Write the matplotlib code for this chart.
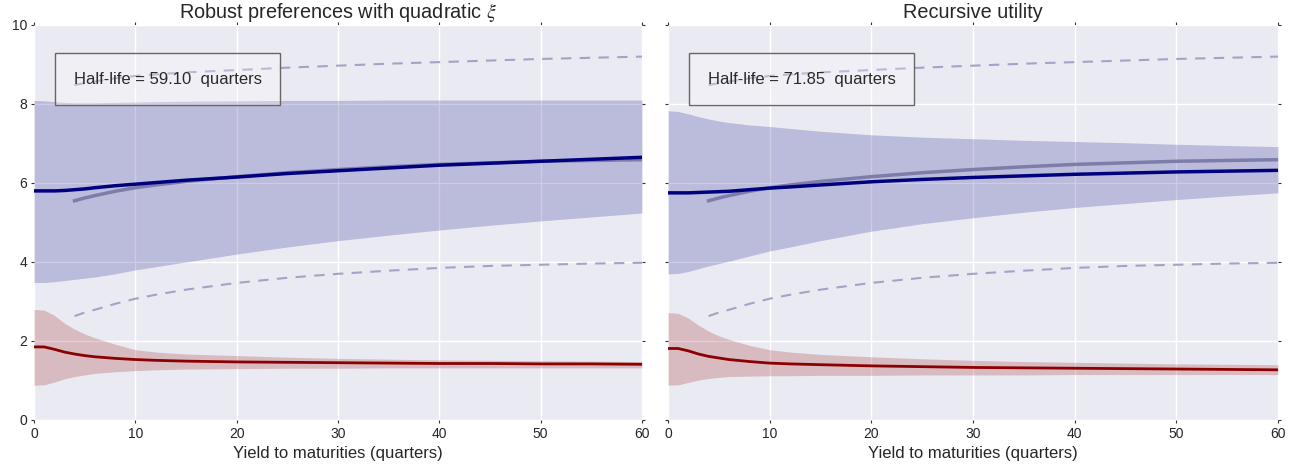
import matplotlib
matplotlib.use("Agg")
from matplotlib import pyplot as plt

plt.rcParams['font.family'] = ['Liberation Sans', 'DejaVu Sans']
plt.rcParams['mathtext.fontset'] = 'stix'

# maturities (quarters)
maturities = [0, 1, 2, 3, 4, 5, 6, 8, 10, 12, 15, 20, 25, 30, 35, 40, 45, 50, 55, 60]
data_maturities = [4, 5, 6, 8, 10, 12, 15, 20, 25, 30, 35, 40, 45, 50, 55, 60]

# observed yields, same in both panels
data_mean = [5.55, 5.62, 5.68, 5.79, 5.88, 5.95, 6.04, 6.16, 6.26, 6.34, 6.41, 6.47, 6.51, 6.55, 6.57, 6.59]
data_upper = [8.48, 8.53, 8.57, 8.65, 8.71, 8.75, 8.80, 8.86, 8.92, 8.97, 9.02, 9.06, 9.10, 9.14, 9.17, 9.20]
data_lower = [2.63, 2.72, 2.79, 2.94, 3.07, 3.17, 3.30, 3.47, 3.60, 3.70, 3.78, 3.85, 3.90, 3.93, 3.96, 3.98]

# robust preferences with quadratic xi
rob_nom_mean = [5.80, 5.80, 5.80, 5.81, 5.83, 5.85, 5.88, 5.93, 5.97, 6.01, 6.07, 6.15, 6.24, 6.31, 6.38, 6.45, 6.50, 6.55, 6.60, 6.65]
rob_nom_upper = [8.09, 8.08, 8.06, 8.04, 8.03, 8.03, 8.03, 8.04, 8.05, 8.06, 8.07, 8.08, 8.09, 8.09, 8.10, 8.10, 8.10, 8.10, 8.10, 8.10]
rob_nom_lower = [3.48, 3.48, 3.50, 3.53, 3.56, 3.59, 3.62, 3.70, 3.80, 3.88, 4.00, 4.20, 4.38, 4.54, 4.68, 4.81, 4.93, 5.04, 5.14, 5.24]
rob_real_mean = [1.85, 1.85, 1.79, 1.72, 1.67, 1.63, 1.60, 1.56, 1.53, 1.51, 1.49, 1.47, 1.46, 1.45, 1.44, 1.43, 1.43, 1.42, 1.42, 1.41]
rob_real_upper = [2.80, 2.78, 2.65, 2.45, 2.30, 2.18, 2.08, 1.92, 1.78, 1.72, 1.67, 1.63, 1.59, 1.56, 1.54, 1.52, 1.51, 1.50, 1.49, 1.48]
rob_real_lower = [0.88, 0.89, 0.96, 1.04, 1.10, 1.14, 1.18, 1.22, 1.25, 1.27, 1.29, 1.30, 1.31, 1.31, 1.32, 1.32, 1.32, 1.32, 1.32, 1.32]

# recursive utility
rec_nom_mean = [5.75, 5.75, 5.75, 5.76, 5.77, 5.78, 5.79, 5.83, 5.87, 5.90, 5.95, 6.03, 6.09, 6.14, 6.18, 6.22, 6.25, 6.28, 6.30, 6.32]
rec_nom_upper = [7.83, 7.81, 7.75, 7.68, 7.62, 7.57, 7.53, 7.47, 7.43, 7.38, 7.31, 7.22, 7.16, 7.12, 7.08, 7.05, 7.02, 6.98, 6.95, 6.92]
rec_nom_lower = [3.70, 3.71, 3.76, 3.83, 3.90, 3.96, 4.02, 4.15, 4.28, 4.38, 4.54, 4.78, 4.97, 5.12, 5.26, 5.38, 5.48, 5.58, 5.67, 5.75]
rec_real_mean = [1.81, 1.81, 1.75, 1.67, 1.61, 1.57, 1.53, 1.48, 1.44, 1.42, 1.40, 1.37, 1.35, 1.33, 1.32, 1.31, 1.30, 1.29, 1.28, 1.27]
rec_real_upper = [2.72, 2.70, 2.58, 2.40, 2.25, 2.13, 2.04, 1.89, 1.78, 1.72, 1.66, 1.60, 1.55, 1.51, 1.48, 1.46, 1.44, 1.42, 1.41, 1.40]
rec_real_lower = [0.88, 0.89, 0.95, 1.01, 1.05, 1.08, 1.10, 1.11, 1.12, 1.12, 1.13, 1.13, 1.14, 1.14, 1.14, 1.15, 1.15, 1.15, 1.15, 1.15]

titles = [r'Robust preferences with quadratic $\xi$', 'Recursive utility']
half_lives = [59.10, 71.85]
models = [
    (rob_nom_mean, rob_nom_upper, rob_nom_lower, rob_real_mean, rob_real_upper, rob_real_lower),
    (rec_nom_mean, rec_nom_upper, rec_nom_lower, rec_real_mean, rec_real_upper, rec_real_lower),
]

fig = plt.figure(figsize=(12.98, 4.68), dpi=100)
ax1 = fig.add_axes([0.0262, 0.1026, 0.4684, 0.844])
ax2 = fig.add_axes([0.5146, 0.1026, 0.4700, 0.844], sharey=ax1)

for i, ax in enumerate([ax1, ax2]):
    nom_mean, nom_up, nom_lo, real_mean, real_up, real_lo = models[i]
    ax.set_facecolor('#eaeaf2')
    ax.grid(True, color='white', linewidth=1.0)
    ax.set_axisbelow(True)
    for s in ax.spines.values():
        s.set_visible(False)

    ax.fill_between(maturities, nom_lo, nom_up, color='navy', alpha=0.2, linewidth=0)
    ax.fill_between(maturities, real_lo, real_up, color='darkred', alpha=0.2, linewidth=0)
    ax.plot(data_maturities, data_upper, color='#a3a3c6', linewidth=1.5, linestyle='--', dashes=(5, 4))
    ax.plot(data_maturities, data_lower, color='#a3a3c6', linewidth=1.5, linestyle='--', dashes=(5, 4))
    ax.plot(data_maturities, data_mean, color='#7d7daa', linewidth=2.5)
    ax.plot(maturities, nom_mean, color='navy', linewidth=2.5)
    ax.plot(maturities, real_mean, color='darkred', linewidth=2)

    ax.text(3.9, 8.63, 'Half-life = %.2f  quarters' % half_lives[i], fontsize=12, color='#2a2a2a',
            va='center', ha='left',
            bbox=dict(boxstyle='square', facecolor=(1, 1, 1, 0.25), edgecolor='#666666',
                      linewidth=1.0, pad=1.1))

    ax.set_xlim(0, 60)
    ax.set_ylim(0, 10)
    ax.set_xticks([0, 10, 20, 30, 40, 50, 60])
    ax.set_yticks([0, 2, 4, 6, 8, 10])
    ax.tick_params(direction='out', length=2, width=0.8, color='#333333', labelsize=10,
                   labelcolor='#262626', top=True, right=True, pad=3)
    ax.set_title(titles[i], fontsize=14.3, color='#262626', pad=5)
    ax.set_xlabel('Yield to maturities (quarters)', fontsize=12, color='#262626', labelpad=4)

ax2.tick_params(labelleft=False)

plt.savefig('out.png', dpi=100)
